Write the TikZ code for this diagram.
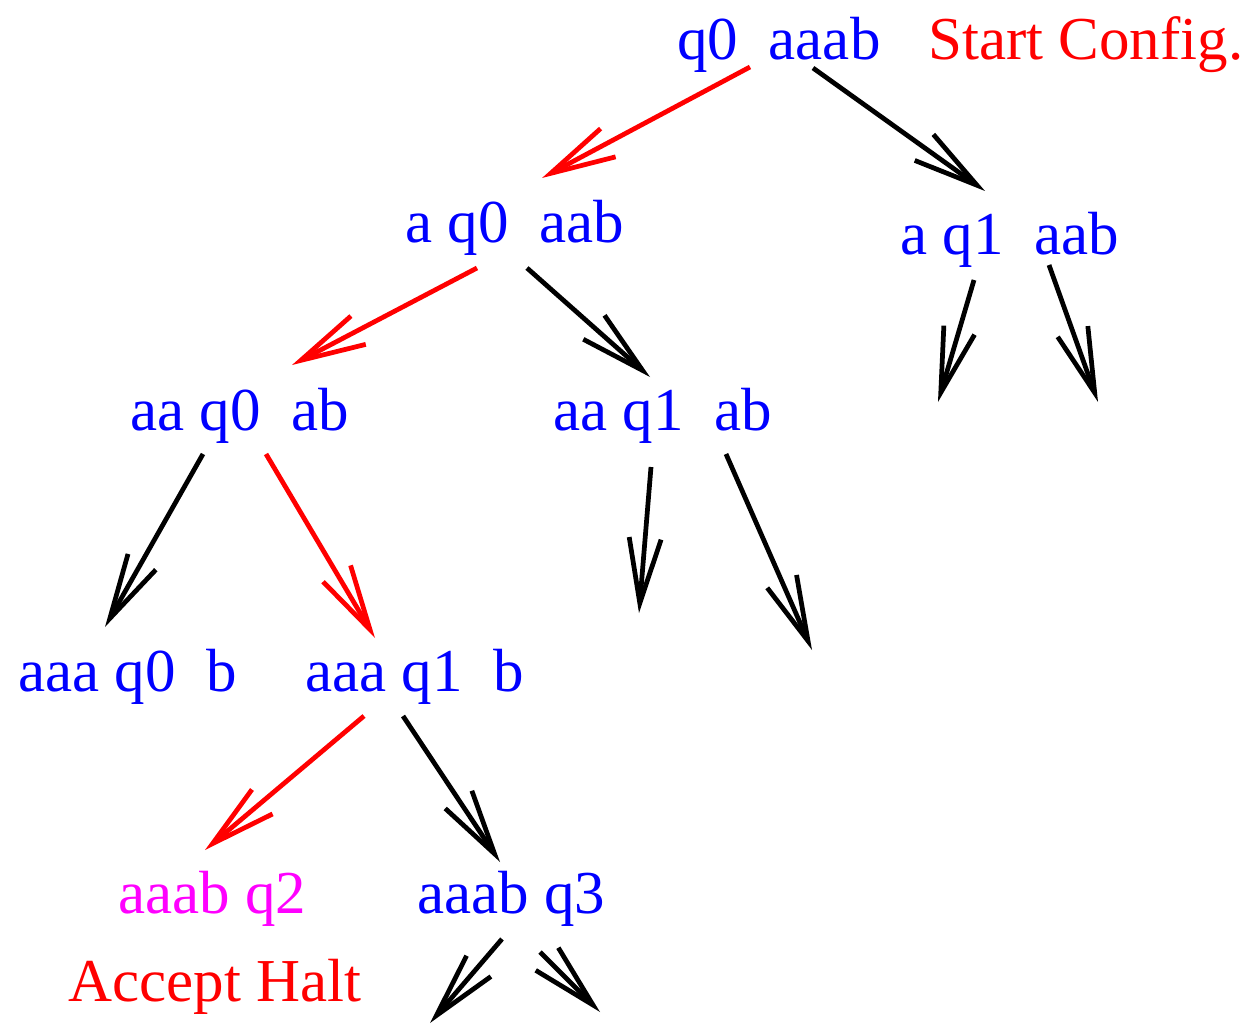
\documentclass[tikz,border=0pt]{standalone}
\usepackage{fontspec}
\setmainfont{Liberation Serif}
\usetikzlibrary{arrows.meta}
\definecolor{pblue}{RGB}{0,0,255}
\definecolor{pred}{RGB}{255,0,0}
\definecolor{pmag}{RGB}{255,0,255}
\tikzset{
  lbl/.style={inner sep=0pt, anchor=base west, font=\fontsize{34.7}{40}\selectfont},
  cfg/.style={lbl, text=pblue},
  conn/.style={line width=0.095cm, line cap=butt, -{Straight Barb[length=1.3cm,width=0.64cm,line cap=butt,line join=miter]}},
  blk/.style={conn, draw=black},
  acc/.style={conn, draw=pred},
}
\begin{document}
\begin{tikzpicture}[x=0.02cm,y=-0.02cm]
\useasboundingbox (0,0) rectangle (1249,1024);
% nodes
\node[cfg] (r0) at (677,60) {q0~~aaab};
\node[lbl,text=pred] (start) at (928,60) {Start Config.};
\node[cfg] (a1) at (405,243) {a q0~~aab};
\node[cfg] (b1) at (900,255) {a q1~~aab};
\node[cfg] (a2) at (130,430) {aa q0~~ab};
\node[cfg] (b2) at (553,430) {aa q1~~ab};
\node[cfg] (a3) at (18,691) {aaa q0~~b};
\node[cfg] (b3) at (305,691) {aaa q1~~b};
\node[lbl,text=pmag] (acc) at (118,913) {aaab q2};
\node[cfg] (c4) at (417,913) {aaab q3};
\node[lbl,text=pred] (halt) at (68,1001) {Accept Halt};
% connector end points
\coordinate (r0L) at (750,67);  \coordinate (a1T) at (542,178);
\coordinate (r0R) at (813,68);  \coordinate (b1T) at (985,191);
\coordinate (a1L) at (477,268); \coordinate (a2T) at (292,365);
\coordinate (a1R) at (527,268); \coordinate (b2T) at (650,377);
\coordinate (b1L) at (974,280); \coordinate (f1) at (938,402);
\coordinate (b1R) at (1049,265);\coordinate (f2) at (1098,402);
\coordinate (a2L) at (203,454); \coordinate (a3T) at (105,627);
\coordinate (a2R) at (266,454); \coordinate (b3T) at (375,638);
\coordinate (b2L) at (651,467); \coordinate (f3) at (639,613);
\coordinate (b2R) at (726,454); \coordinate (f4) at (812,650);
\coordinate (b3L) at (364,716); \coordinate (accT) at (205,850);
\coordinate (b3R) at (403,716); \coordinate (c4T) at (500,862);
\coordinate (c4L) at (502,939); \coordinate (f5) at (430,1023);
\coordinate (c4R) at (540,952); \coordinate (f6) at (600,1012);
% connectors
\draw[acc] (r0L) -- (a1T);
\draw[blk] (r0R) -- (b1T);
\draw[acc] (a1L) -- (a2T);
\draw[blk] (a1R) -- (b2T);
\draw[blk] (b1L) -- (f1);
\draw[blk] (b1R) -- (f2);
\draw[blk] (a2L) -- (a3T);
\draw[acc] (a2R) -- (b3T);
\draw[blk] (b2L) -- (f3);
\draw[blk] (b2R) -- (f4);
\draw[acc] (b3L) -- (accT);
\draw[blk] (b3R) -- (c4T);
\draw[blk] (c4L) -- (f5);
\draw[blk] (c4R) -- (f6);
\end{tikzpicture}
\end{document}
